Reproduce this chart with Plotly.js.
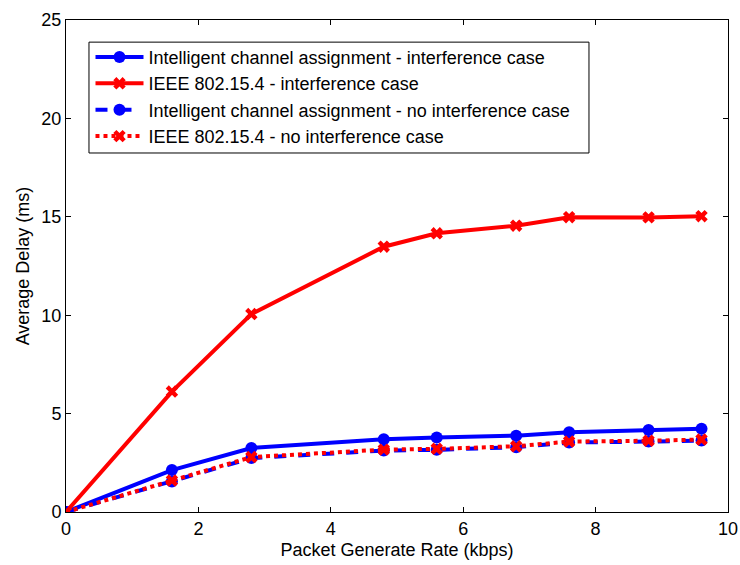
<!DOCTYPE html>
<html>
<head>
<meta charset="utf-8">
<script src="https://cdn.plot.ly/plotly-3.0.1.min.js"></script>
<style>
  html, body { margin: 0; padding: 0; background: #fff; }
  #chart { width: 740px; height: 565px; }
</style>
</head>
<body>
<div id="chart"></div>
<script>
// Packet generate rate (kbps)
const rate = [0, 1.6, 2.8, 4.8, 5.6, 6.8, 7.6, 8.8, 9.6];

// Average delay (ms) for each scheme
const icaInterference   = [0, 2.13, 3.25, 3.70, 3.78, 3.88, 4.05, 4.17, 4.23];
const ieeeInterference  = [0, 6.12, 10.06, 13.48, 14.16, 14.55, 14.98, 14.97, 15.03];
const icaNoInterference = [0, 1.55, 2.74, 3.12, 3.16, 3.29, 3.53, 3.58, 3.63];
const ieeeNoInterference = [0, 1.60, 2.79, 3.17, 3.21, 3.34, 3.58, 3.62, 3.68];

const seriesNames = [
  'Intelligent channel assignment - interference case',
  'IEEE 802.15.4 - interference case',
  'Intelligent channel assignment - no interference case',
  'IEEE 802.15.4 - no interference case'
];

const xTicks = [0, 2, 4, 6, 8, 10];
const yTicks = [0, 5, 10, 15, 20, 25];

const BLUE = '#0000ff';
const RED = '#ff0000';
const FONT = 'Liberation Sans, Arial, sans-serif';

const traces = [
  {
    x: rate, y: icaInterference, name: seriesNames[0], mode: 'lines+markers',
    line: { color: BLUE, width: 4, dash: 'solid' },
    marker: { symbol: 'circle', size: 12, color: BLUE }
  },
  {
    x: rate, y: ieeeInterference, name: seriesNames[1], mode: 'lines+markers',
    line: { color: RED, width: 4, dash: 'solid' },
    marker: { symbol: 'x', size: 11, color: RED }
  },
  {
    x: rate, y: icaNoInterference, name: seriesNames[2], mode: 'lines+markers',
    line: { color: BLUE, width: 4, dash: 'dash' },
    marker: { symbol: 'circle', size: 12, color: BLUE }
  },
  {
    x: rate, y: ieeeNoInterference, name: seriesNames[3], mode: 'lines+markers',
    line: { color: RED, width: 4, dash: 'dot' },
    marker: { symbol: 'x', size: 11, color: RED }
  }
];

const axisCommon = {
  showline: true, linecolor: '#000', linewidth: 1, mirror: 'ticks',
  ticks: 'inside', ticklen: 5, tickcolor: '#000', tickwidth: 1,
  showgrid: false, zeroline: false,
  tickfont: { family: FONT, size: 18, color: '#000' }
};

const layout = {
  width: 740, height: 565,
  margin: { l: 66, r: 12, t: 20, b: 53 },
  paper_bgcolor: '#fff', plot_bgcolor: '#fff',
  font: { family: FONT, color: '#000' },
  showlegend: true,
  xaxis: Object.assign({}, axisCommon, {
    range: [0, 10], tickvals: xTicks, ticktext: xTicks.map(String),
    title: { text: 'Packet Generate Rate (kbps)', font: { family: FONT, size: 18 }, standoff: 5 }
  }),
  yaxis: Object.assign({}, axisCommon, {
    range: [0, 25], tickvals: yTicks, ticktext: yTicks.map(String),
    title: { text: 'Average Delay (ms)', font: { family: FONT, size: 18 }, standoff: 7 }
  }),
  // Framed box behind the legend entries
  shapes: [{
    type: 'rect', xref: 'paper', yref: 'paper',
    x0: 0.0347, x1: 0.790, y0: 0.7297, y1: 0.955,
    line: { color: '#000', width: 1 }, fillcolor: '#fff', layer: 'above'
  }],
  legend: {
    x: 0.037, y: 0.962, xanchor: 'left', yanchor: 'top',
    bgcolor: 'rgba(0,0,0,0)', borderwidth: 0,
    font: { family: FONT, size: 18, color: '#000' },
    tracegroupgap: 0, itemwidth: 48
  }
};

Plotly.newPlot('chart', traces, layout, { displayModeBar: false, staticPlot: true });
</script>
</body>
</html>
